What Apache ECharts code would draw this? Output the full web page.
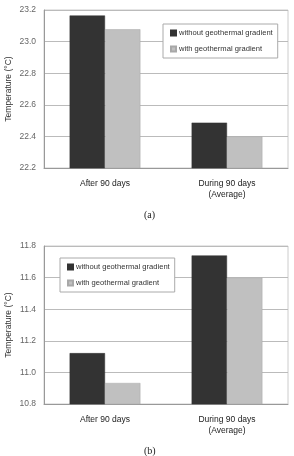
<!DOCTYPE html>
<html>
<head>
<meta charset="utf-8">
<script src="https://cdn.jsdelivr.net/npm/echarts@6/dist/echarts.min.js"></script>
<style>
  html, body { margin: 0; padding: 0; background: #fff; }
  #chart { width: 294px; height: 456px; }
</style>
</head>
<body>
<div id="chart"></div>
<script>
// categories and values
const categories = ['After 90 days', 'During 90 days\n(Average)'];
const seriesNames = ['without geothermal gradient', 'with geothermal gradient'];
const withoutA = [23.165, 22.487];
const withA = [23.078, 22.40];
const withoutB = [11.122, 11.74];
const withB = [10.933, 11.60];
const ticksA = { min: 22.2, max: 23.2, interval: 0.2 };
const ticksB = { min: 10.8, max: 11.8, interval: 0.2 };

const darkColor = '#333333';
const lightColor = '#c0c0c0';
const font = 'Arial, "Liberation Sans", sans-serif';

const chart = echarts.init(document.getElementById('chart'), null, { renderer: 'canvas' });

function yAxis(gridIndex, ticks) {
    return {
        type: 'value',
        gridIndex: gridIndex,
        min: ticks.min,
        max: ticks.max,
        interval: ticks.interval,
        name: 'Temperature (°C)',
        nameLocation: 'middle',
        nameGap: 31,
        nameMoveOverlap: false,
        nameTextStyle: { color: '#333', fontSize: 8.5, fontFamily: font },
        axisLine: { show: true, lineStyle: { color: '#999' } },
        axisTick: { show: false },
        axisLabel: {
            color: '#666',
            fontSize: 8.5,
            fontFamily: font,
            margin: 8,
            formatter: v => v.toFixed(1)
        },
        splitLine: { lineStyle: { color: '#bbb', width: 1 } }
    };
}

function xAxis(gridIndex) {
    return {
        type: 'category',
        gridIndex: gridIndex,
        data: categories,
        axisLine: { lineStyle: { color: '#999' } },
        axisTick: { show: false },
        axisLabel: {
            color: '#222',
            fontSize: 8.5,
            fontFamily: font,
            margin: 10,
            lineHeight: 11
        }
    };
}

function bar(name, data, axisIndex, color) {
    return {
        name: name,
        type: 'bar',
        xAxisIndex: axisIndex,
        yAxisIndex: axisIndex,
        data: data,
        barGap: '0%',
        barCategoryGap: '42%',
        itemStyle: { color: color, borderColor: color === lightColor ? '#a8a8a8' : darkColor, borderWidth: 0.5 },
        animation: false
    };
}

function legend(left, top) {
    return {
        orient: 'vertical',
        left: left,
        top: top,
        data: seriesNames,
        icon: 'rect',
        itemWidth: 5,
        itemHeight: 5,
        itemGap: 8,
        padding: [5, 5, 5, 7],
        backgroundColor: '#fff',
        borderColor: '#aaa',
        borderWidth: 1,
        textStyle: { color: '#333', fontSize: 7.6, fontFamily: font, padding: [0, 0, 0, -2] }
    };
}

function grid(top) {
    return {
        left: 44, top: top, width: 244, height: 158,
        outerBoundsMode: 'none',
        containLabel: false,
        show: true, borderColor: '#ccc', borderWidth: 1
    };
}

const option = {
    backgroundColor: '#fff',
    animation: false,
    title: [
        { text: '(a)', left: 139, top: 205, textStyle: { fontFamily: '"Liberation Serif", serif', fontSize: 10, fontWeight: 'normal', color: '#222' } },
        { text: '(b)', left: 139, top: 441, textStyle: { fontFamily: '"Liberation Serif", serif', fontSize: 10, fontWeight: 'normal', color: '#222' } }
    ],
    grid: [grid(10), grid(246)],
    legend: [legend(163, 24), legend(60, 258)],
    xAxis: [xAxis(0), xAxis(1)],
    yAxis: [yAxis(0, ticksA), yAxis(1, ticksB)],
    series: [
        bar(seriesNames[0], withoutA, 0, darkColor),
        bar(seriesNames[1], withA, 0, lightColor),
        bar(seriesNames[0], withoutB, 1, darkColor),
        bar(seriesNames[1], withB, 1, lightColor)
    ]
};

chart.setOption(option);
window.addEventListener('resize', () => chart.resize());
</script>
</body>
</html>
